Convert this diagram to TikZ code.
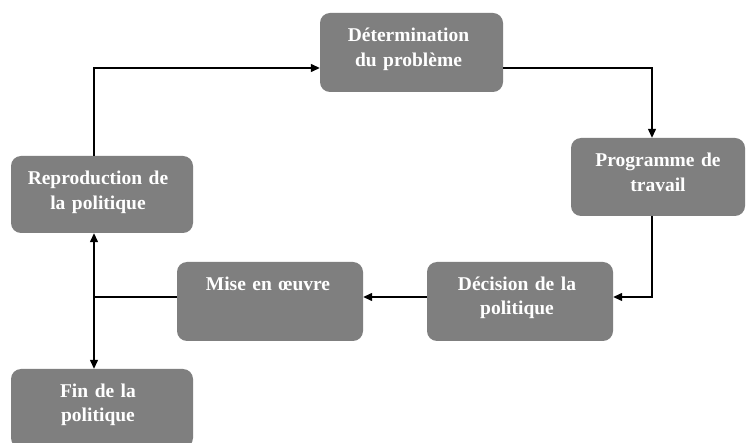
\documentclass[tikz,border=0pt]{standalone}
\usepackage{fontspec}
\setmainfont{Liberation Serif}
\usetikzlibrary{arrows.meta,calc}
\definecolor{boxgray}{HTML}{7F7F7F}
\tikzset{
  box/.style={rectangle, rounded corners=10pt, fill=boxgray, draw=none, inner sep=0pt},
  lbl/.style={text=white, font=\bfseries\fontsize{19.5}{24.5}\selectfont, text width=180pt, align=center, inner sep=0pt, anchor=base},
  conn/.style={line width=1.3pt, black},
  arr/.style={conn, -{Triangle[length=9pt,width=8pt]}}
}
\begin{document}
\begin{tikzpicture}[x=1pt,y=-1pt]
\useasboundingbox (0,0) rectangle (747,443);
\clip (0,0) rectangle (747,443);
\fill[white] (0,0) rectangle (747,443);
% boxes
\node[box, minimum width=183pt, minimum height=79pt] (n1) at (411.5,52.5) {};
\node[box, minimum width=174pt, minimum height=78pt] (n2) at (658,177) {};
\node[box, minimum width=182pt, minimum height=77pt] (n3) at (102,194.5) {};
\node[box, minimum width=186pt, minimum height=79pt] (n4) at (270,301.5) {};
\node[box, minimum width=186pt, minimum height=79pt] (n5) at (520,301.5) {};
\node[box, minimum width=182pt, minimum height=79pt] (n6) at (102,408.5) {};
% labels
\node[lbl] (t1) at ($(n1.north)+(-3pt,-29pt)$) {Détermination\\du problème};
\node[lbl] (t2) at ($(n2.north)+(0pt,-29pt)$) {Programme de\\travail};
\node[lbl] (t3) at ($(n3.north)+(-4pt,-29pt)$) {Reproduction de\\la politique};
\node[lbl] (t4) at ($(n4.north)+(-2pt,-28.5pt)$) {Mise en œuvre};
\node[lbl] (t5) at ($(n5.north)+(-3pt,-28.5pt)$) {Décision de la\\politique};
\node[lbl] (t6) at ($(n6.north)+(-4pt,-28.5pt)$) {Fin de la\\politique};
% bend points
\coordinate (c1) at (652,68);
\coordinate (c2) at (652,297);
\coordinate (c3) at (94,68);
\coordinate (j) at (94,297);
% connectors
\draw[arr] (c3 |- n3.north) -- (c3) -- (n1.west |- c3);
\draw[arr] (n1.east |- c1) -- (c1) -- (c1 |- n2.north);
\draw[arr] (c2 |- n2.south) -- (c2) -- (n5.east |- c2);
\draw[arr] (n5.west |- j) -- (n4.east |- j);
\draw[conn] (n4.west |- j) -- (j);
\draw[arr] (j) -- (j |- n3.south);
\draw[arr] (j) -- (j |- n6.north);
\end{tikzpicture}
\end{document}
